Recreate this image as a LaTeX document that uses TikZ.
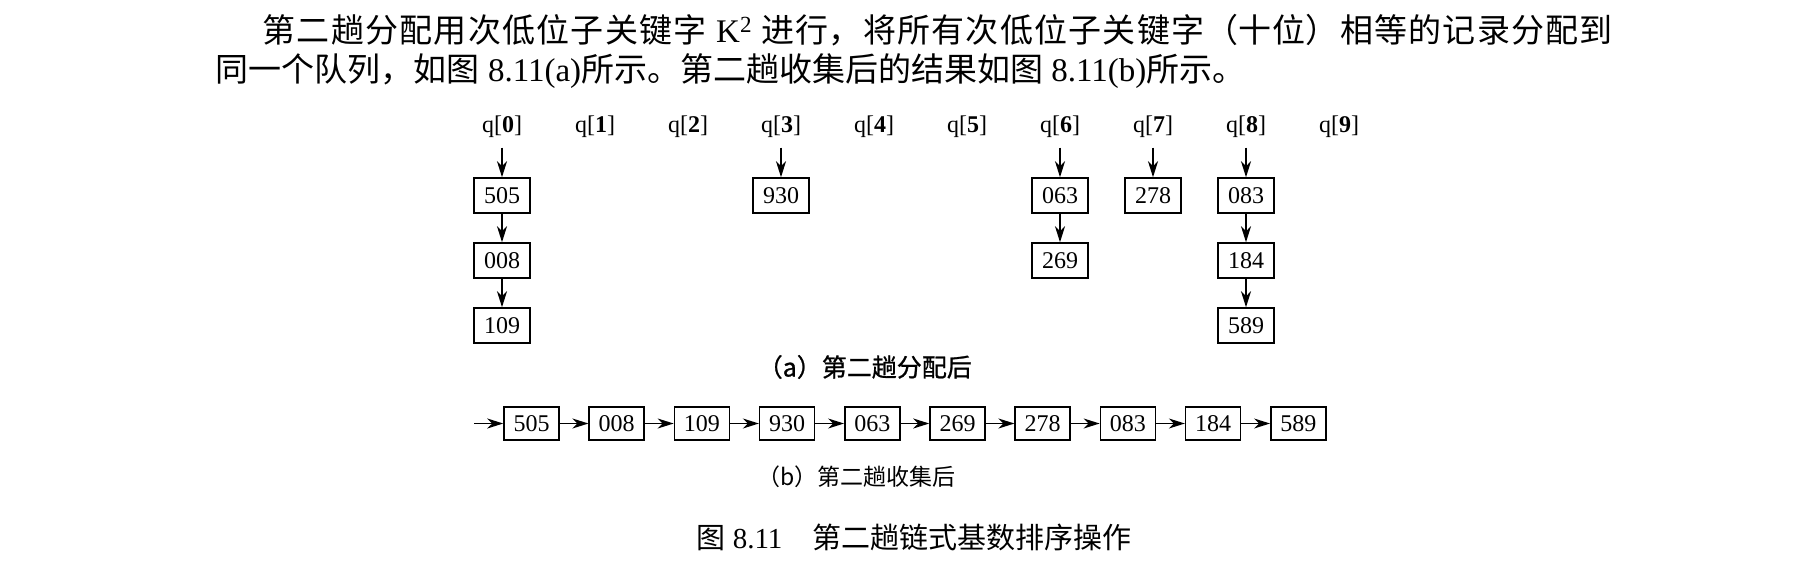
\documentclass[tikz,border=0pt]{standalone}
\usepackage{fontspec}
\setmainfont{Liberation Serif}
\newfontfamily\cjk{Noto Sans CJK SC}
\newfontfamily\cjkb[FakeBold=1]{Noto Sans CJK SC}
\usetikzlibrary{positioning}
\usetikzlibrary{arrows.meta}
\XeTeXlinebreaklocale "zh"
\XeTeXlinebreakskip=0pt plus 4pt
\tikzset{>={Stealth[length=16pt,width=10pt,inset=5pt]}}
\tikzset{rec/.style={draw, line width=1.5pt, minimum width=56pt, minimum height=35pt, inner sep=0pt, font=\fontsize{24}{24}\selectfont}}
\tikzset{recb/.style={rec, minimum width=55pt, minimum height=33pt}}
\tikzset{qlab/.style={inner xsep=0pt, inner ysep=9pt, font=\fontsize{24}{24}\selectfont}}
\tikzset{subcap/.style={inner sep=0pt, anchor=west}}
\tikzset{para/.style={inner sep=0pt, anchor=base west, text width=1397pt, align=justify, font=\fontsize{33}{39}\selectfont}}

\begin{document}
\begin{tikzpicture}[x=1pt, y=-1pt]
\useasboundingbox (0,0) rectangle (1803,562);
\begin{scope}[on grid, line width=1.5pt]

% text above the figure
\node[para] (txt) at (215,42) {\tolerance=10000\hspace*{47pt}{\cjk 第二趟分配用次低位子关键字} K\textsuperscript{2} {\cjk 进行，将所有次低位子关键字（十位）相等的记录分配到}\linebreak
{\cjk 同一个队列，如图} 8.11(a){\cjk 所示。第二趟收集后的结果如图} 8.11(b){\cjk 所示。}};

% the ten queues
\node[qlab] (q0) at (502,127) {q[\textbf{0}]};
\node[qlab] (q1) [right=93pt of q0] {q[\textbf{1}]};
\node[qlab] (q2) [right=93pt of q1] {q[\textbf{2}]};
\node[qlab] (q3) [right=93pt of q2] {q[\textbf{3}]};
\node[qlab] (q4) [right=93pt of q3] {q[\textbf{4}]};
\node[qlab] (q5) [right=93pt of q4] {q[\textbf{5}]};
\node[qlab] (q6) [right=93pt of q5] {q[\textbf{6}]};
\node[qlab] (q7) [right=93pt of q6] {q[\textbf{7}]};
\node[qlab] (q8) [right=93pt of q7] {q[\textbf{8}]};
\node[qlab] (q9) [right=93pt of q8] {q[\textbf{9}]};

\node[rec] (a505) [below=68.5pt of q0] {505};
\node[rec] (a008) [below=65pt of a505] {008};
\node[rec] (a109) [below=65pt of a008] {109};
\node[rec] (a930) [below=68.5pt of q3] {930};
\node[rec] (a063) [below=68.5pt of q6] {063};
\node[rec] (a269) [below=65pt of a063] {269};
\node[rec] (a278) [below=68.5pt of q7] {278};
\node[rec] (a083) [below=68.5pt of q8] {083};
\node[rec] (a184) [below=65pt of a083] {184};
\node[rec] (a589) [below=65pt of a184] {589};

\draw[->] (q0) -- (a505);
\draw[->] (a505) -- (a008);
\draw[->] (a008) -- (a109);
\draw[->] (q3) -- (a930);
\draw[->] (q6) -- (a063);
\draw[->] (a063) -- (a269);
\draw[->] (q7) -- (a278);
\draw[->] (q8) -- (a083);
\draw[->] (a083) -- (a184);
\draw[->] (a184) -- (a589);

\node[subcap, font=\cjkb\fontsize{25}{25}\selectfont] (capa) at (757,367) {（a）第二趟分配后};

% after collecting
\node[recb] (b505) at (531.5,423.5) {505};
\node[recb] (b008) [right=85.2pt of b505] {008};
\node[recb] (b109) [right=85.2pt of b008] {109};
\node[recb] (b930) [right=85.2pt of b109] {930};
\node[recb] (b063) [right=85.2pt of b930] {063};
\node[recb] (b269) [right=85.2pt of b063] {269};
\node[recb] (b278) [right=85.2pt of b269] {278};
\node[recb] (b083) [right=85.2pt of b278] {083};
\node[recb] (b184) [right=85.2pt of b083] {184};
\node[recb] (b589) [right=85.2pt of b184] {589};
\coordinate[left=57.5pt of b505] (head);

\draw[->] (head) -- (b505);
\draw[->] (b505) -- (b008);
\draw[->] (b008) -- (b109);
\draw[->] (b109) -- (b930);
\draw[->] (b930) -- (b063);
\draw[->] (b063) -- (b269);
\draw[->] (b269) -- (b278);
\draw[->] (b278) -- (b083);
\draw[->] (b083) -- (b184);
\draw[->] (b184) -- (b589);

\node[subcap, font=\cjk\fontsize{23}{23}\selectfont] (capb) at (757,477) {（b）第二趟收集后};

\node[inner sep=0pt, font=\fontsize{29}{29}\selectfont] (fig) at (914,537) {{\cjk 图} 8.11\hspace{30pt}{\cjk 第二趟链式基数排序操作}};

\end{scope}
\end{tikzpicture}
\end{document}
